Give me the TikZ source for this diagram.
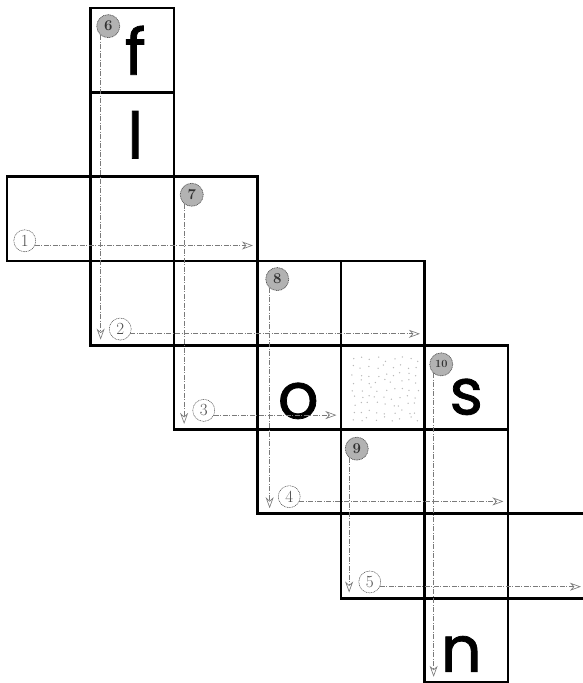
\documentclass[tikz,border=0pt]{standalone}
\usepackage{fontspec}
\newfontfamily\letrafont{Poppins}[FakeBold=1.2]
\usepackage{tikz}
\usetikzlibrary{arrows.meta, positioning, calc}
\definecolor{cgris}{HTML}{7a7a7a}
\tikzset{
  casilla/.style={rectangle, draw=black, line width=2.8pt, minimum width=83.5pt,
                  minimum height=84.3pt, inner sep=0pt},
  letra/.style={anchor=base, inner sep=0pt, font=\letrafont\fontsize{64}{64}\selectfont},
  numhor/.style={circle, draw=black!70, line width=0.5pt, dash pattern=on 1pt off 0.7pt,
                 minimum size=22pt, inner sep=0pt, font=\fontsize{17}{17}\selectfont, text=black!70},
  numver/.style={circle, draw=black!65, fill=gray!60, line width=0.7pt, dash pattern=on 1pt off 0.7pt,
                 minimum size=23pt, inner sep=0pt, font=\fontsize{15}{15}\selectfont\bfseries, text=black!80},
  pista/.style={-{Stealth[open, length=11pt, width=8pt]}, draw=cgris, line width=0.65pt,
                dash pattern=on 5pt off 1.5pt on 1pt off 1.5pt},
}

\begin{document}
\begin{tikzpicture}[x=1pt, y=-1pt]
        \useasboundingbox (0,0) rectangle (583,683);
        \foreach \c/\r in {1/0, 1/1, 0/2, 1/2, 2/2, 1/3, 2/3, 3/3, 4/3, 2/4, 3/4, 4/4, 5/4,
                           3/5, 4/5, 5/5, 4/6, 5/6, 6/6, 5/7}
          \node[casilla] (c\c\r) at ({48.75+83.5*\c}, {50.15+84.3*\r}) {};

        \pgfmathsetseed{11}
        \foreach \i in {0,...,8}
          \foreach \j in {0,...,8}
            \fill[gray!55] ($(c44.center)+({-30+8*\i+2.5*rand},{-28+7.5*\j+2.5*rand})$) circle (0.75pt);

        \node[letra] (lf) at ($(c10.south)+(3,-19)$) {f};
        \node[letra] (ll) at ($(c11.south)+(3,-19.6)$) {l};
        \node[letra] (lo) at ($(c34.south)+(-1,-12.5)$) {o};
        \node[letra] (ls) at ($(c54.south)+(0,-16.5)$) {s};
        \node[letra] (ln) at ($(c57.south)+(-5,-12)$) {n};

        \node[numhor] (h1) at ($(c02.center)+(-24,22)$) {1};
        \node[numhor] (h2) at ($(c13.center)+(-12,26)$) {2};
        \node[numhor] (h3) at ($(c24.center)+(-12,23)$) {3};
        \node[numhor] (h4) at ($(c35.center)+(-10,25)$) {4};
        \node[numhor] (h5) at ($(c46.center)+(-13,26)$) {5};

        \node[numver] (v6) at ($(c10.center)+(-24,-24)$) {6};
        \node[numver] (v7) at ($(c22.center)+(-24,-24)$) {7};
        \node[numver] (v8) at ($(c33.center)+(-22,-24)$) {8};
        \node[numver] (v9) at ($(c45.center)+(-26,-23)$) {9};
        \node[numver] (v10) at ($(c54.center)+(-25,-23)$) {\fontsize{11}{11}\selectfont 10};

        \draw[pista] (h1.-25) -- ($(h1.-25 -| c22.east)+(-6,0)$);
        \draw[pista] (h2.-25) -- ($(h2.-25 -| c43.east)+(-6,0)$);
        \draw[pista] (h3.-25) -- ($(h3.-25 -| c34.east)+(-6,0)$);
        \draw[pista] (h4.-25) -- ($(h4.-25 -| c55.east)+(-6,0)$);
        \draw[pista] (h5.-25) -- ($(h5.-25 -| c66.east)+(-12,0)$);

        \draw[pista] (v6.230) -- ($(v6.230 |- c13.south)+(0,-7)$);
        \draw[pista] (v7.230) -- ($(v7.230 |- c24.south)+(0,-7)$);
        \draw[pista] (v8.230) -- ($(v8.230 |- c35.south)+(0,-7)$);
        \draw[pista] (v9.230) -- ($(v9.230 |- c46.south)+(0,-7)$);
        \draw[pista] (v10.230) -- ($(v10.230 |- c57.south)+(0,-7)$);
    \end{tikzpicture}
\end{document}
